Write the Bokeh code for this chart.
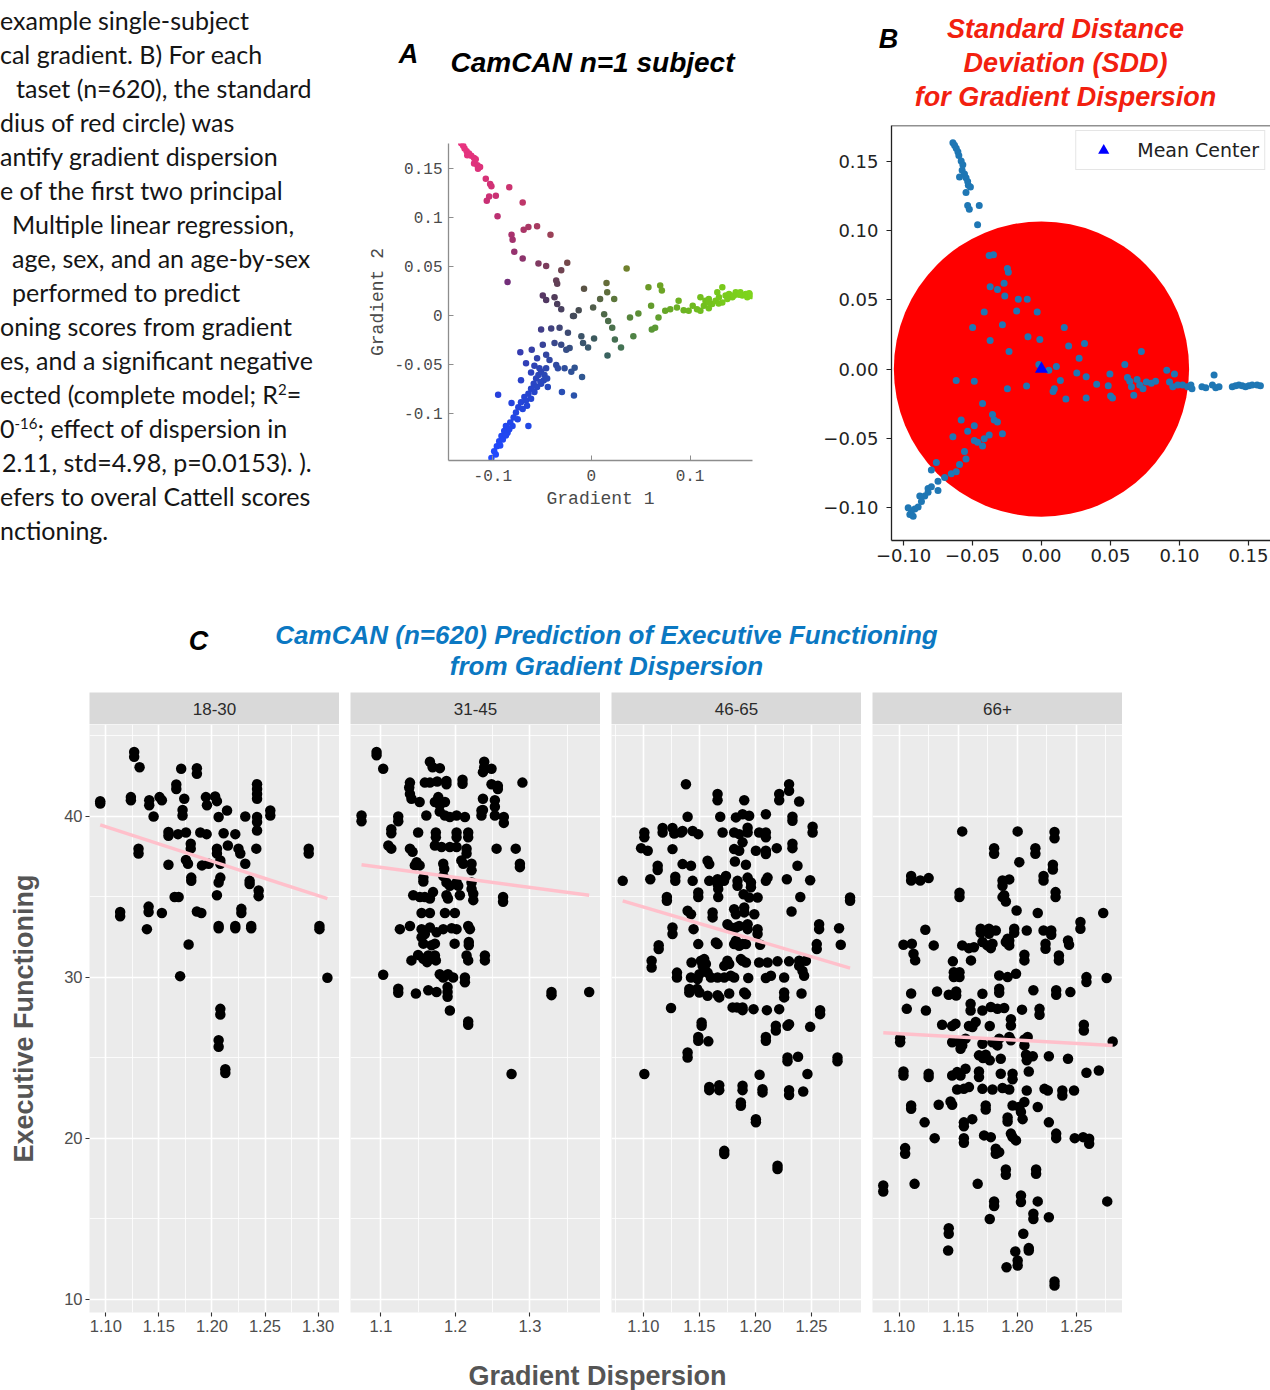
import numpy as np
from bokeh.plotting import figure
from bokeh.layouts import row, column
from bokeh.models import (Range1d, FixedTicker, CustomJSTickFormatter, Label, Legend,
                          LegendItem, Span, Div, Spacer)
from bokeh.embed import file_html
from bokeh.resources import INLINE

# ---------------------------------------------------------------- data
# Panel A: one subject's parcels in gradient space (Gradient 1, Gradient 2)
subject_parcels = [
    # transmodal arm (top)
    (-0.132, 0.1752), (-0.130, 0.1728), (-0.1286, 0.170), (-0.1265, 0.1672), (-0.1241, 0.1648),
    (-0.1218, 0.1624), (-0.119, 0.1603), (-0.1173, 0.159), (-0.1259, 0.163), (-0.119, 0.1545),
    (-0.1156, 0.1528), (-0.115, 0.1493), (-0.1129, 0.151), (-0.1071, 0.139), (-0.1027, 0.1338),
    (-0.1014, 0.1314), (-0.1037, 0.121), (-0.0969, 0.1217), (-0.1061, 0.1166), (-0.0952, 0.101),
    (-0.0833, 0.1303), (-0.0697, 0.1148), (-0.081, 0.0821), (-0.0799, 0.0769), (-0.0782, 0.0648),
    (-0.0697, 0.0579), (-0.0687, 0.0872), (-0.0639, 0.090), (-0.0551, 0.0907), (-0.0415, 0.0821),
    (-0.0537, 0.0528), (-0.0459, 0.0503), (-0.0306, 0.0459), (-0.0245, 0.0534), (-0.0357, 0.0355),
    (-0.0347, 0.0321), (-0.085, 0.0338), (-0.0493, 0.020), (-0.0459, 0.0155), (-0.0374, 0.0183),
    (-0.0347, 0.0114), (-0.0306, 0.0062),
    # centre
    (-0.0075, 0.0269), (0.0017, 0.0079), (0.0088, 0.0166), (0.0153, 0.0328), (0.016, 0.0234),
    (0.0231, 0.0166), (0.0357, 0.0476), (-0.0129, 0.0052), (-0.0187, -0.0007),
    # visual arm (right)
    (0.0129, 0.001), (0.017, -0.0059), (0.0211, -0.0128), (0.0238, -0.0248), (0.0163, -0.041),
    (0.030, -0.0328), (0.0027, -0.0238), (0.0391, -0.0024), (0.0425, -0.0214), (0.0476, 0.0017),
    (0.0578, 0.0286), (0.0605, 0.0097), (0.0697, 0.0303), (0.0714, 0.0252), (0.0612, -0.0145),
    (0.0646, -0.0128), (0.068, -0.0024), (0.0748, 0.0045), (0.0799, 0.0062), (0.0867, 0.0079),
    (0.0884, 0.0148), (0.0935, 0.0052), (0.0986, 0.0045), (0.1027, 0.0097), (0.1105, 0.0183),
    (0.1156, 0.0148), (0.119, 0.0166), (0.1224, 0.0114), (0.1259, 0.0148), (0.1293, 0.0183),
    (0.1327, 0.0131), (0.136, 0.020), (0.1395, 0.0217), (0.1429, 0.0183), (0.1463, 0.0234),
    (0.1497, 0.021), (0.153, 0.020), (0.1565, 0.0217), (0.1599, 0.0224), (0.162, 0.0196),
    (0.119, 0.0072), (0.114, 0.0097), (0.107, 0.0062), (0.1105, 0.0045), (0.1327, 0.0286),
    (0.1276, 0.0234), (0.1378, 0.0166), (0.1446, 0.020), (0.158, 0.0183), (0.1616, 0.021),
    (0.151, 0.0234), (0.119, 0.013), (0.129, 0.012),
    # somatomotor arm (bottom left)
    (-0.1014, -0.1455), (-0.0986, -0.1386), (-0.0959, -0.1334), (-0.0935, -0.1283), (-0.0912, -0.1231),
    (-0.0884, -0.1179), (-0.0867, -0.1128), (-0.085, -0.1197), (-0.0823, -0.1093), (-0.0789, -0.1041),
    (-0.0765, -0.099), (-0.0741, -0.0938), (-0.0714, -0.0886), (-0.068, -0.0834), (-0.0663, -0.0869),
    (-0.0639, -0.080), (-0.0612, -0.0748), (-0.0585, -0.0697), (-0.0561, -0.0645), (-0.0537, -0.061),
    (-0.051, -0.0576), (-0.0483, -0.0662), (-0.0459, -0.0541), (-0.0442, -0.0731), (-0.0946, -0.081),
    (-0.081, -0.0893), (-0.0639, -0.1128), (-0.0721, -0.0376), (-0.0605, -0.0352), (-0.0551, -0.0438),
    (-0.0578, -0.0514), (-0.0527, -0.0541), (-0.051, -0.0145), (-0.0493, -0.030), (-0.0459, -0.0403),
    (-0.0425, -0.0455), (-0.0408, -0.0134), (-0.0374, -0.0283), (-0.0357, -0.0507), (-0.034, -0.0541),
    (-0.0323, -0.0128), (-0.0306, -0.030), (-0.0299, -0.0783), (-0.0272, -0.0541), (-0.0255, -0.0352),
    (-0.0238, -0.0179), (-0.0221, -0.0334), (-0.0204, -0.0576), (-0.0177, -0.0817), (-0.017, -0.0534),
    (-0.0177, -0.0007), (-0.0102, -0.0214), (-0.0085, -0.0283), (-0.0034, -0.0328), (-0.0095, -0.0628),
    (-0.0663, -0.049), (-0.0612, -0.0583), (-0.0714, -0.0662), (-0.051, -0.0697), (-0.097, -0.142),
    (-0.0925, -0.1328), (-0.0898, -0.1266), (-0.0867, -0.1224), (-0.0833, -0.1162), (-0.080, -0.1128),
    (-0.0748, -0.1059), (-0.0697, -0.0955), (-0.0653, -0.0921), (-0.0612, -0.0852), (-0.0578, -0.0783),
    (-0.0551, -0.0731), (-0.0517, -0.0679), (-0.0476, -0.061), (-0.0449, -0.0645),
]

# Panel B: group gradient space with its mean centre and standard distance deviation
group_parcels = [
    (-0.0642, 0.1636), (-0.063, 0.1618), (-0.0618, 0.1596), (-0.0606, 0.157), (-0.0599, 0.1543),
    (-0.0582, 0.1503), (-0.057, 0.1476), (-0.0575, 0.1436), (-0.0558, 0.1409), (-0.0547, 0.1382),
    (-0.0535, 0.1356), (-0.053, 0.1329), (-0.0515, 0.1316), (-0.0594, 0.1388), (-0.0547, 0.1275),
    (-0.0535, 0.1182), (-0.0523, 0.1155), (-0.0451, 0.1182), (-0.0463, 0.1043),
    (-0.0379, 0.0821), (-0.0348, 0.0826), (-0.0247, 0.0727), (-0.024, 0.070), (-0.0372, 0.0594),
    (-0.0319, 0.0575), (-0.0271, 0.062), (-0.0266, 0.0527), (-0.0168, 0.0505), (-0.0103, 0.0505),
    (-0.0415, 0.0412), (-0.018, 0.042), (-0.0031, 0.0412), (-0.0499, 0.030), (-0.0283, 0.0321),
    (-0.0372, 0.0206), (-0.0235, 0.0126), (-0.0098, 0.0233), (-0.0012, 0.0214), (0.0165, 0.030),
    (0.0197, 0.0166), (0.0312, 0.0184), (0.0273, 0.0078), (-0.0019, 0.0032), (0.0053, -0.0008),
    (0.0108, 0.0019), (-0.0618, -0.0083), (-0.0487, -0.0088), (-0.0247, -0.0142), (-0.0108, -0.0123),
    (0.0137, -0.0083), (0.0093, -0.0142), (0.0084, -0.0163), (0.0256, -0.0029), (0.0324, -0.0056),
    (0.0177, -0.0217), (0.0324, -0.0209), (0.040, -0.011), (0.0496, -0.0035), (0.0484, -0.012),
    (0.0501, -0.0195), (0.0515, -0.0209), (0.0604, 0.0032), (0.0724, 0.0126),
    (0.0623, -0.0061), (0.064, -0.0088), (0.0652, -0.0128), (0.0669, -0.019), (0.0693, -0.0075),
    (0.0712, -0.0115), (0.0736, -0.0142), (0.076, -0.0094), (0.0796, -0.0102), (0.0827, -0.0088),
    (0.0908, -0.0008), (0.0928, -0.0094), (0.0964, -0.0035), (0.0952, -0.0128), (0.0988, -0.0115),
    (0.1023, -0.0115), (0.1059, -0.0128), (0.1083, -0.0115), (0.1091, -0.0142),
    (0.1163, -0.0128), (0.1191, -0.0136), (0.1239, -0.0115), (0.1251, -0.0043), (0.1263, -0.0136),
    (0.1287, -0.0128), (0.1383, -0.0128), (0.1407, -0.012), (0.1431, -0.0115), (0.1455, -0.012),
    (0.1479, -0.0128), (0.1503, -0.012), (0.1527, -0.0115), (0.1563, -0.0115), (0.1587, -0.012),
    (-0.0642, -0.0489), (-0.0487, -0.0409), (-0.0427, -0.0249), (-0.0355, -0.0329), (-0.0343, -0.0369),
    (-0.0319, -0.0382), (-0.0283, -0.0468), (-0.0487, -0.0516), (-0.0582, -0.0369), (-0.0535, -0.0449),
    (-0.0463, -0.0529), (-0.0427, -0.0556), (-0.0415, -0.0503), (-0.0379, -0.0476), (-0.0558, -0.0596),
    (-0.0547, -0.065), (-0.0594, -0.069), (-0.0618, -0.0743), (-0.0654, -0.0757), (-0.0702, -0.0783),
    (-0.0762, -0.0676), (-0.0798, -0.073), (-0.075, -0.081), (-0.0822, -0.0864), (-0.0846, -0.0917),
    (-0.087, -0.0957), (-0.0894, -0.0997), (-0.0918, -0.1011), (-0.0942, -0.1024), (-0.0954, -0.1051),
    (-0.093, -0.1064), (-0.0966, -0.1003), (-0.0882, -0.0917), (-0.075, -0.0877), (-0.0798, -0.085),
    (-0.0822, -0.089),
]
mean_center = (0.0, 0.0)
sdd_radius = 0.107

# Panel C: gradient dispersion vs executive functioning, by age group
age_groups = ["18-30", "31-45", "46-65", "66+"]

scores_18_30 = [
    (1.1267, 44.0), (1.1267, 43.7), (1.1318, 43.06), (1.171, 42.96), (1.1858, 43.0), (1.1858, 42.65),
    (1.1664, 41.99), (1.1664, 41.7), (1.0947, 40.95), (1.0947, 40.8), (1.1236, 41.2), (1.1236, 41.0),
    (1.1409, 41.0), (1.1409, 40.7), (1.145, 40.0), (1.1506, 41.2), (1.1528, 41.0), (1.1739, 41.1),
    (1.1723, 40.4), (1.1723, 40.06), (1.1943, 41.2), (1.1953, 40.7), (1.203, 41.24), (1.2047, 40.95),
    (1.2142, 40.37), (1.2063, 39.96), (1.2314, 40.0), (1.2425, 42.0), (1.2425, 41.7), (1.2425, 41.4),
    (1.2425, 41.1), (1.255, 40.37), (1.255, 40.06), (1.2425, 39.96), (1.2425, 39.65), (1.2425, 39.13),
    (1.159, 39.03), (1.159, 38.8), (1.168, 38.9), (1.1755, 39.0), (1.189, 39.0), (1.195, 38.9),
    (1.211, 38.96), (1.222, 38.9), (1.1308, 38.0), (1.1308, 37.7), (1.180, 38.3), (1.180, 38.0),
    (1.2047, 38.0), (1.2047, 37.7), (1.215, 38.2), (1.225, 38.0), (1.2267, 37.7), (1.2418, 38.0),
    (1.2912, 38.0), (1.2912, 37.7), (1.159, 37.0), (1.1755, 37.3), (1.1774, 37.06), (1.1906, 36.96),
    (1.1969, 37.06), (1.2079, 37.27), (1.2079, 37.06), (1.2314, 37.06), (1.1805, 36.2), (1.1805, 36.0),
    (1.2063, 35.9), (1.2079, 36.2), (1.2355, 36.0), (1.2355, 35.8), (1.2047, 35.1), (1.1648, 35.0),
    (1.1686, 35.0), (1.244, 35.4), (1.244, 35.05), (1.1135, 34.06), (1.1135, 33.8), (1.1403, 34.4),
    (1.1403, 34.06), (1.1528, 34.0), (1.1858, 34.1), (1.190, 34.0), (1.2277, 34.26), (1.2277, 34.0),
    (1.1387, 33.0), (1.2063, 33.2), (1.2063, 33.06), (1.222, 33.2), (1.222, 33.06), (1.237, 33.2),
    (1.237, 33.06), (1.3013, 33.2), (1.3013, 33.0), (1.178, 32.05), (1.170, 30.08), (1.3088, 29.98),
    (1.2079, 28.05), (1.2079, 27.7), (1.2063, 26.1), (1.2063, 25.7), (1.2126, 24.3), (1.2126, 24.06),
]

scores_31_45 = [
    (1.0942, 44.0), (1.0942, 43.8), (1.1031, 42.96), (1.1658, 43.4), (1.1694, 43.06), (1.1792, 43.0),
    (1.2387, 43.4), (1.2387, 43.06), (1.2485, 42.96), (1.237, 42.75), (1.290, 42.1), (1.139, 42.1),
    (1.138, 41.8), (1.139, 41.4), (1.141, 41.1), (1.152, 40.9), (1.159, 42.1), (1.1658, 42.1),
    (1.1756, 42.17), (1.188, 42.2), (1.188, 42.0), (1.2096, 42.28), (1.2096, 42.03), (1.2485, 42.0),
    (1.257, 41.9), (1.257, 41.7), (1.177, 41.2), (1.1725, 40.9), (1.186, 40.9), (1.179, 40.7),
    (1.237, 41.1), (1.237, 40.4), (1.253, 41.0), (1.253, 40.6), (1.253, 40.06), (1.161, 40.06),
    (1.179, 40.3), (1.186, 40.06), (1.1926, 39.96), (1.2016, 40.06), (1.2128, 39.96), (1.235, 40.37),
    (1.235, 40.06), (1.265, 39.96), (1.265, 39.6), (1.074, 40.06), (1.074, 39.7), (1.1233, 40.0),
    (1.1233, 39.7), (1.114, 39.2), (1.114, 38.96), (1.150, 39.0), (1.1738, 39.0), (1.1738, 38.7),
    (1.2016, 39.0), (1.2016, 38.7), (1.2172, 39.0), (1.2172, 38.7), (1.110, 38.2), (1.114, 38.0),
    (1.139, 38.0), (1.1425, 37.8), (1.1725, 38.2), (1.1814, 38.1), (1.1926, 38.1), (1.2016, 38.1),
    (1.215, 38.0), (1.215, 37.7), (1.2553, 38.0), (1.281, 38.0), (1.2866, 37.06), (1.2866, 36.85),
    (1.148, 37.16), (1.152, 36.96), (1.1456, 36.96), (1.1837, 37.06), (1.185, 36.75), (1.208, 37.27),
    (1.2105, 37.06), (1.2217, 37.06), (1.2217, 36.65), (1.157, 36.2), (1.157, 35.96), (1.1837, 36.3),
    (1.188, 35.9), (1.1926, 35.7), (1.2016, 35.9), (1.2038, 35.7), (1.2217, 35.9), (1.2217, 35.5),
    (1.224, 35.2), (1.224, 34.8), (1.1434, 35.1), (1.1523, 35.0), (1.159, 35.0), (1.1658, 34.9),
    (1.170, 35.3), (1.188, 35.1), (1.190, 34.9), (1.206, 35.1), (1.264, 35.0), (1.264, 34.7),
    (1.1546, 34.0), (1.1658, 34.0), (1.186, 34.0), (1.1993, 34.0), (1.1255, 33.0), (1.139, 33.2),
    (1.1546, 33.0), (1.159, 32.7), (1.1658, 33.1), (1.1747, 32.8), (1.1837, 33.0), (1.195, 33.06),
    (1.2016, 33.0), (1.2172, 33.2), (1.2195, 33.0), (1.1546, 32.5), (1.157, 32.1), (1.168, 32.0),
    (1.1725, 32.1), (1.199, 32.1), (1.218, 32.2), (1.218, 32.0), (1.141, 31.06), (1.150, 31.4),
    (1.157, 31.16), (1.162, 30.95), (1.1636, 31.37), (1.1725, 31.37), (1.1738, 31.06), (1.215, 31.37),
    (1.2172, 31.06), (1.2396, 31.37), (1.2396, 31.06), (1.1031, 30.17), (1.179, 30.2), (1.1837, 30.0),
    (1.190, 30.2), (1.197, 30.0), (1.2128, 30.0), (1.2128, 29.7), (1.1233, 29.3), (1.1233, 29.05),
    (1.147, 29.0), (1.1636, 29.2), (1.1747, 29.1), (1.1895, 29.4), (1.1895, 29.1), (1.1895, 28.8),
    (1.1926, 27.95), (1.2172, 27.27), (1.2172, 27.06), (1.329, 29.1), (1.329, 28.9), (1.3796, 29.1),
    (1.2754, 24.0),
]

scores_46_65 = [
    (1.138, 42.0), (1.1662, 41.39), (1.1662, 41.01), (1.190, 41.01), (1.2212, 41.39), (1.2212, 41.01),
    (1.230, 42.0), (1.230, 41.6), (1.239, 40.93), (1.1395, 39.98), (1.1686, 39.98), (1.1826, 39.94),
    (1.1885, 40.14), (1.1944, 40.04), (1.2093, 40.14), (1.233, 39.98), (1.233, 39.73), (1.251, 39.36),
    (1.251, 39.0), (1.1009, 39.0), (1.1009, 38.7), (1.098, 38.03), (1.1039, 37.87), (1.1172, 39.28),
    (1.1172, 39.0), (1.126, 39.28), (1.1276, 38.94), (1.1336, 39.0), (1.135, 39.1), (1.144, 39.1),
    (1.149, 38.9), (1.126, 37.97), (1.1707, 39.0), (1.181, 39.0), (1.1855, 38.9), (1.193, 39.0),
    (1.193, 39.3), (1.2033, 39.0), (1.2093, 39.0), (1.2093, 38.7), (1.181, 37.97), (1.1855, 37.87),
    (1.1885, 38.39), (1.2004, 37.87), (1.2093, 37.87), (1.2093, 37.66), (1.219, 38.03), (1.233, 38.3),
    (1.233, 38.03), (1.1128, 36.94), (1.1128, 36.67), (1.135, 37.04), (1.1425, 36.94), (1.1573, 37.25),
    (1.1588, 37.04), (1.1817, 37.2), (1.1915, 37.0), (1.2375, 36.94), (1.0816, 36.0), (1.1062, 36.1),
    (1.1285, 36.25), (1.1285, 36.0), (1.144, 36.0), (1.1588, 36.0), (1.1662, 36.1), (1.1662, 35.8),
    (1.1737, 36.3), (1.172, 36.0), (1.184, 36.0), (1.184, 35.7), (1.193, 36.2), (1.196, 35.9),
    (1.196, 35.6), (1.2093, 36.0), (1.2108, 36.2), (1.228, 36.1), (1.2488, 36.04), (1.121, 35.0),
    (1.121, 34.76), (1.149, 35.28), (1.149, 35.0), (1.1668, 35.8), (1.1668, 35.5), (1.1668, 35.0),
    (1.1894, 35.17), (1.1944, 34.97), (1.2019, 34.97), (1.24, 35.0), (1.2844, 34.97), (1.2844, 34.76),
    (1.1395, 34.14), (1.1425, 33.93), (1.1618, 34.04), (1.1618, 33.73), (1.181, 34.24), (1.1826, 33.93),
    (1.19, 34.35), (1.19, 34.04), (1.199, 33.93), (1.2322, 34.1), (1.126, 33.1), (1.126, 32.7),
    (1.1448, 33.0), (1.175, 33.3), (1.178, 33.1), (1.1826, 33.1), (1.1855, 33.2), (1.193, 33.3),
    (1.193, 33.0), (1.2019, 33.0), (1.2019, 32.7), (1.2568, 33.3), (1.2568, 33.0), (1.2746, 33.06),
    (1.1137, 32.0), (1.1137, 31.76), (1.149, 32.07), (1.1647, 32.17), (1.1662, 32.07), (1.181, 32.07),
    (1.1826, 32.28), (1.1855, 31.97), (1.1885, 32.07), (1.1915, 32.07), (1.2042, 32.03), (1.2547, 32.07),
    (1.2547, 31.76), (1.2761, 32.03), (1.1074, 31.04), (1.1074, 30.62), (1.143, 30.93), (1.1514, 31.04),
    (1.1543, 31.14), (1.1558, 30.83), (1.1529, 30.72), (1.175, 31.04), (1.1766, 30.83), (1.1722, 30.72),
    (1.187, 31.14), (1.1885, 31.04), (1.1915, 30.93), (1.2033, 30.93), (1.2108, 30.93), (1.2197, 31.0),
    (1.230, 31.0), (1.239, 31.04), (1.245, 31.04), (1.239, 30.72), (1.242, 30.4), (1.2434, 30.1),
    (1.130, 30.3), (1.130, 30.0), (1.1425, 30.0), (1.1484, 29.9), (1.15, 30.2), (1.1573, 30.3),
    (1.1603, 30.0), (1.1662, 30.0), (1.1722, 30.0), (1.178, 30.1), (1.181, 30.0), (1.1936, 29.96),
    (1.2093, 29.96), (1.2138, 30.1), (1.2256, 30.0), (1.141, 29.28), (1.141, 29.07), (1.148, 29.28),
    (1.15, 29.07), (1.1573, 28.86), (1.1662, 28.9), (1.1677, 28.76), (1.1766, 29.0), (1.19, 29.07),
    (1.1915, 28.96), (1.2256, 29.07), (1.2256, 28.76), (1.2411, 29.0), (1.1247, 28.1), (1.1796, 28.14),
    (1.1835, 28.14), (1.1885, 28.14), (1.1885, 27.97), (1.1983, 28.03), (1.2102, 27.97), (1.2212, 28.03),
    (1.2577, 27.97), (1.2577, 27.72), (1.152, 27.2), (1.152, 27.0), (1.149, 26.3), (1.149, 26.07),
    (1.158, 26.03), (1.1395, 25.34), (1.1395, 25.03), (1.2182, 27.0), (1.2182, 26.7), (1.2286, 27.0),
    (1.230, 27.1), (1.2093, 26.3), (1.2093, 26.07), (1.2488, 26.93), (1.2286, 25.03), (1.2286, 24.8),
    (1.238, 25.07), (1.2732, 25.03), (1.2732, 24.8), (1.1009, 24.0), (1.2037, 23.96), (1.2464, 24.0),
    (1.1588, 23.2), (1.1588, 23.0), (1.1677, 23.3), (1.1677, 23.0), (1.1885, 23.27), (1.1885, 23.0),
    (1.2063, 23.06), (1.2063, 22.86), (1.230, 23.0), (1.230, 22.7), (1.2426, 22.92), (1.187, 22.24),
    (1.187, 22.03), (1.2004, 21.2), (1.2004, 21.0), (1.1722, 19.23), (1.1722, 19.03), (1.2197, 18.3),
    (1.2197, 18.1),
]

scores_66_plus = [
    (1.1534, 39.07), (1.2003, 39.07), (1.2315, 39.03), (1.2315, 38.65), (1.1804, 38.03), (1.1804, 37.68),
    (1.2153, 38.03), (1.2153, 37.68), (1.2017, 37.16), (1.2301, 37.0), (1.2301, 36.7), (1.1102, 36.3),
    (1.1102, 36.02), (1.1179, 36.02), (1.125, 36.17), (1.1511, 35.26), (1.1511, 34.99), (1.1875, 36.02),
    (1.1875, 35.7), (1.1932, 36.09), (1.1875, 34.99), (1.1903, 34.72), (1.1889, 35.1), (1.2222, 36.3),
    (1.2222, 36.02), (1.2324, 35.3), (1.2324, 34.99), (1.1994, 34.16), (1.2173, 34.0), (1.2727, 34.0),
    (1.2534, 33.44), (1.2534, 33.02), (1.1222, 32.96), (1.169, 33.02), (1.169, 32.77), (1.176, 33.02),
    (1.176, 32.71), (1.1818, 32.92), (1.1974, 33.02), (1.1974, 32.77), (1.1932, 32.3), (1.208, 32.92),
    (1.2222, 32.92), (1.2287, 32.92), (1.2287, 32.65), (1.1037, 32.03), (1.1108, 32.09), (1.1122, 31.47),
    (1.1136, 31.06), (1.1293, 31.99), (1.1534, 31.99), (1.159, 31.82), (1.1633, 31.88), (1.1705, 32.2),
    (1.1747, 31.99), (1.179, 32.1), (1.1776, 31.82), (1.1903, 32.2), (1.1932, 31.99), (1.1918, 32.4),
    (1.206, 31.41), (1.206, 31.06), (1.2239, 32.09), (1.2239, 31.78), (1.2352, 31.37), (1.2352, 31.06),
    (1.2429, 32.3), (1.2438, 32.03), (1.1608, 31.06), (1.1455, 31.0), (1.1463, 30.33), (1.1463, 30.02),
    (1.1511, 30.33), (1.1511, 30.02), (1.1847, 30.12), (1.1918, 30.02), (1.1989, 30.23), (1.2585, 30.02),
    (1.2585, 29.71), (1.2756, 29.96), (1.1102, 29.0), (1.1321, 29.13), (1.142, 28.92), (1.1483, 28.88),
    (1.1483, 29.13), (1.1705, 28.99), (1.1847, 29.3), (1.1847, 29.05), (1.2136, 29.2), (1.2329, 29.2),
    (1.2329, 28.92), (1.2449, 29.09), (1.1065, 28.05), (1.1227, 27.95), (1.1605, 28.36), (1.1605, 27.95),
    (1.1705, 27.95), (1.1776, 28.16), (1.1832, 28.05), (1.1889, 28.1), (1.204, 28.0), (1.2188, 28.05),
    (1.2188, 27.68), (1.1364, 27.06), (1.1449, 26.98), (1.1477, 27.12), (1.1591, 26.98), (1.1648, 27.23),
    (1.162, 26.92), (1.1767, 26.98), (1.1946, 27.4), (1.1946, 27.02), (1.2563, 27.06), (1.2563, 26.71),
    (1.1009, 26.23), (1.1009, 25.98), (1.1449, 25.98), (1.1506, 25.98), (1.1534, 25.78), (1.1562, 26.2),
    (1.152, 25.57), (1.1705, 25.88), (1.179, 25.98), (1.1832, 25.78), (1.1847, 26.2), (1.1932, 26.3),
    (1.1946, 26.1), (1.206, 26.15), (1.206, 25.78), (1.2088, 26.3), (1.2807, 26.02), (1.1676, 25.16),
    (1.171, 25.0), (1.1767, 24.85), (1.1733, 25.2), (1.186, 24.95), (1.2074, 25.2), (1.2131, 25.1),
    (1.208, 24.85), (1.2267, 25.1), (1.2429, 24.95), (1.1037, 24.16), (1.1037, 23.91), (1.125, 24.02),
    (1.125, 23.81), (1.1449, 23.91), (1.1491, 24.12), (1.152, 23.91), (1.1562, 24.33), (1.1676, 24.16),
    (1.1676, 23.81), (1.186, 24.02), (1.196, 24.02), (1.196, 23.67), (1.2097, 24.16), (1.2585, 24.08),
    (1.269, 24.22), (1.1491, 23.04), (1.1548, 23.08), (1.1591, 23.19), (1.1705, 23.08), (1.179, 23.04),
    (1.1875, 23.13), (1.1932, 23.04), (1.208, 22.98), (1.223, 23.08), (1.2258, 22.98), (1.2381, 22.98),
    (1.2381, 22.67), (1.248, 22.98), (1.1102, 22.05), (1.1102, 21.84), (1.1335, 22.09), (1.1435, 22.3),
    (1.1449, 22.09), (1.1733, 22.05), (1.1733, 21.8), (1.196, 22.05), (1.2017, 21.95), (1.206, 22.26),
    (1.2031, 21.64), (1.2045, 21.2), (1.2173, 21.95), (1.1216, 21.0), (1.1548, 21.0), (1.1548, 20.76),
    (1.1619, 21.2), (1.1918, 21.3), (1.1918, 21.05), (1.2267, 21.0), (1.1301, 20.02), (1.1548, 20.02),
    (1.1548, 19.73), (1.1719, 20.19), (1.1776, 20.08), (1.1946, 20.3), (1.196, 20.08), (1.1989, 19.88),
    (1.2329, 20.3), (1.2329, 20.02), (1.2486, 20.02), (1.2557, 20.08), (1.2608, 19.98), (1.2608, 19.67),
    (1.1051, 19.4), (1.1051, 19.05), (1.1818, 19.36), (1.1847, 19.15), (1.1818, 19.05), (1.1903, 18.07),
    (1.1903, 17.74), (1.2159, 18.07), (1.2159, 17.8), (1.0866, 17.08), (1.0866, 16.7), (1.1131, 17.18),
    (1.1665, 17.18), (1.1804, 16.09), (1.1804, 15.8), (1.2031, 16.46), (1.2031, 16.05), (1.2173, 16.09),
    (1.2136, 15.32), (1.2136, 15.0), (1.2267, 15.11), (1.1767, 15.0), (1.2761, 16.09), (1.142, 14.43),
    (1.142, 14.08), (1.1415, 13.04), (1.2051, 14.08), (1.2097, 13.19), (1.2097, 13.04), (1.1983, 12.98),
    (1.2003, 12.42), (1.2003, 12.11), (1.1909, 12.0), (1.2315, 11.12), (1.2315, 10.87),
]

# linear fit per age group: (x_start, x_end), (y_start, y_end)
fit_x = [(1.0947, 1.3088), (1.074, 1.3796), (1.0816, 1.2844), (1.0866, 1.2807)]
fit_y = [(39.48, 34.89), (37.0, 35.1), (34.76, 30.58), (26.56, 25.78)]

facet_x_ranges = [(1.0846, 1.3202), (1.0592, 1.3948), (1.0716, 1.2946), (1.0775, 1.289)]
facet_x_major = [[1.10, 1.15, 1.20, 1.25, 1.30], [1.1, 1.2, 1.3],
                 [1.10, 1.15, 1.20, 1.25], [1.10, 1.15, 1.20, 1.25]]
facet_x_minor = [[1.125, 1.175, 1.225, 1.275], [1.15, 1.25, 1.35],
                 [1.075, 1.125, 1.175, 1.225, 1.275], [1.125, 1.175, 1.225, 1.275]]
facet_x_decimals = [2, 1, 2, 2]
score_ticks = [10, 20, 30, 40]
score_minor = [15, 25, 35, 45]

caption_lines = [
    (0, "example single-subject"),
    (0, "cal gradient. B) For each"),
    (16, "taset (n=620), the standard"),
    (0, "dius of red circle) was"),
    (0, "antify gradient dispersion"),
    (0, "e of the first two principal"),
    (12, "Multiple linear regression,"),
    (12, "age, sex, and an age-by-sex"),
    (12, "performed to predict"),
    (0, "oning scores from gradient"),
    (0, "es, and a significant negative"),
    (0, "ected (complete model; R<sup>2</sup>="),
    (0, "0<sup>-16</sup>; effect of dispersion in"),
    (2, "2.11, std=4.98, p=0.0153). )."),
    (0, "efers to overal Cattell scores"),
    (0, "nctioning."),
]

SANS = "Liberation Sans"


# ---------------------------------------------------------------- helpers
def text_panel(w, h, labels):
    """Blank canvas whose ranges are its own pixel grid, carrying text only."""
    p = figure(width=w, height=h, x_range=Range1d(0, w), y_range=Range1d(h, 0),
               x_axis_location=None, y_axis_location=None, min_border=0,
               frame_align=False, output_backend="svg", toolbar_location=None)
    p.grid.visible = False
    p.outline_line_color = None
    for lab in labels:
        p.add_layout(Label(text_baseline="middle", **lab))
    return p


def arm_colors(g1, g2):
    """Colour each parcel by its position between the three gradient arms."""
    tips = np.array([[-0.13, 0.172], [0.16, 0.021], [-0.102, -0.145]])
    tip_rgb = np.array([[232, 52, 128], [126, 212, 28], [34, 74, 255]], float)
    T = np.vstack([tips.T, np.ones(3)])
    P = np.vstack([g1, g2, np.ones(len(g1))])
    w = np.clip(np.linalg.solve(T, P).T, 0, None)
    w /= w.sum(1, keepdims=True)
    wmax = w.max(1)
    s = w ** 2
    s /= s.sum(1, keepdims=True)
    shade = 0.55 + 0.45 * np.clip((wmax - 1 / 3) / (2 / 3), 0, 1) ** 0.7
    rgb = np.clip((s @ tip_rgb) * shade[:, None], 0, 255)
    return ["#%02x%02x%02x" % tuple(int(round(c)) for c in v) for v in rgb]


# ---------------------------------------------------------------- caption text
caption_html = (
    '<div style="font-family:Lato;font-size:25px;color:#151515;padding-top:3px;'
    'width:330px;overflow:hidden;">'
    + "".join(
        f'<div style="margin-left:{dx}px;height:34px;line-height:34px;white-space:nowrap;">{t}</div>'
        for dx, t in caption_lines)
    + "</div>")
caption_html = caption_html.replace("<sup>", '<sup style="font-size:15px;line-height:0;">')
caption = Div(text=caption_html, width=330, height=580, margin=0)

# ---------------------------------------------------------------- panel A
title_a = text_panel(420, 110, [
    dict(x=43, y=53, text="A", text_font=SANS, text_font_style="bold italic",
         text_font_size="27px", text_color="black", text_align="center"),
    dict(x=227, y=62, text="CamCAN n=1 subject", text_font=SANS, text_font_style="bold italic",
         text_font_size="28px", text_color="black", text_align="center"),
])

g1, g2 = (np.array(v) for v in zip(*subject_parcels))
plot_a = figure(width=420, height=470, x_range=Range1d(-0.1449, 0.1633),
                y_range=Range1d(-0.148, 0.175), min_border_left=81, min_border_right=33,
                min_border_top=33, min_border_bottom=120, frame_align=False,
                output_backend="svg", toolbar_location=None)
plot_a.grid.visible = False
plot_a.outline_line_color = None
plot_a.scatter(g1, g2, size=6.5, color=arm_colors(g1, g2), line_width=0)
plot_a.xaxis.ticker = FixedTicker(ticks=[-0.1, 0, 0.1])
plot_a.yaxis.ticker = FixedTicker(ticks=[-0.1, -0.05, 0, 0.05, 0.1, 0.15])
plot_a.xaxis.axis_label = "Gradient 1"
plot_a.yaxis.axis_label = "Gradient 2"
for ax in (plot_a.xaxis, plot_a.yaxis):
    ax.formatter = CustomJSTickFormatter(code="return tick.toString();")
    ax.axis_line_color = "#8d8d8d"
    ax.axis_line_width = 1.3
    ax.major_tick_line_color = "#8d8d8d"
    ax.major_tick_in = 5
    ax.major_tick_out = 0
    ax.minor_tick_line_color = None
    ax.major_label_text_font = "Liberation Mono"
    ax.major_label_text_font_size = "16px"
    ax.major_label_text_color = "#4a4a4a"
    ax.axis_label_text_font = "Liberation Mono"
    ax.axis_label_text_font_size = "18px"
    ax.axis_label_text_font_style = "normal"
    ax.axis_label_text_color = "#4a4a4a"
plot_a.xaxis.major_label_standoff = 9
plot_a.xaxis.axis_label_standoff = 5
plot_a.yaxis.major_label_standoff = 6
plot_a.yaxis.axis_label_standoff = 3

# ---------------------------------------------------------------- panel B
red = "#f2200f"
title_b = text_panel(485, 118, [
    dict(x=103, y=38, text="B", text_font=SANS, text_font_style="bold italic",
         text_font_size="27px", text_color="black", text_align="center"),
    dict(x=280, y=28, text="Standard Distance", text_font=SANS, text_font_style="bold italic",
         text_font_size="27px", text_color=red, text_align="center"),
    dict(x=280, y=62, text="Deviation (SDD)", text_font=SANS, text_font_style="bold italic",
         text_font_size="27px", text_color=red, text_align="center"),
    dict(x=280, y=96, text="for Gradient Dispersion", text_font=SANS, text_font_style="bold italic",
         text_font_size="27px", text_color=red, text_align="center"),
])

b_top = 0.176
plot_b = figure(width=485, height=462, x_range=Range1d(-0.1087, 0.166),
                y_range=Range1d(-0.1239, b_top), min_border_left=106, min_border_right=0,
                min_border_top=7, min_border_bottom=40, frame_align=False,
                output_backend="svg", toolbar_location=None)
plot_b.grid.visible = False
plot_b.outline_line_color = None
plot_b.circle(x=[mean_center[0]], y=[mean_center[1]], radius=sdd_radius,
              fill_color="#ff0000", line_color=None)
bx, by = zip(*group_parcels)
plot_b.scatter(bx, by, size=7, color="#1f77b4", line_width=0)
tri = plot_b.scatter([mean_center[0]], [mean_center[1]], marker="triangle", size=13,
                     color="#0000ff", line_width=0)
plot_b.add_layout(Span(location=b_top, dimension="width", line_color="#222222", line_width=1.3))
ticks_b = [-0.10, -0.05, 0.0, 0.05, 0.10, 0.15]
plot_b.xaxis.ticker = FixedTicker(ticks=ticks_b)
plot_b.yaxis.ticker = FixedTicker(ticks=ticks_b)
for ax in (plot_b.xaxis, plot_b.yaxis):
    ax.formatter = CustomJSTickFormatter(
        code="return (tick < -1e-9 ? '\u2212' : '') + Math.abs(tick).toFixed(2);")
    ax.axis_line_color = "#222222"
    ax.axis_line_width = 1.3
    ax.major_tick_line_color = "#222222"
    ax.major_tick_line_width = 1.2
    ax.major_tick_in = 0
    ax.major_tick_out = 5
    ax.minor_tick_line_color = None
    ax.major_label_text_font = "DejaVu Sans"
    ax.major_label_text_font_size = "18px"
    ax.major_label_text_color = "#222222"
plot_b.xaxis.major_label_standoff = 3
plot_b.yaxis.major_label_standoff = 8
legend_b = Legend(items=[LegendItem(label="Mean Center", renderers=[tri])],
                  location="top_right", margin=5, padding=5, glyph_width=44, glyph_height=28,
                  label_standoff=12, label_text_font="DejaVu Sans",
                  label_text_font_size="19px", label_text_color="#222222",
                  border_line_color="#cccccc", border_line_width=1.2,
                  background_fill_color="white", background_fill_alpha=0.9)
plot_b.add_layout(legend_b)

# ---------------------------------------------------------------- panel C
title_c = text_panel(1270, 112, [
    dict(x=198, y=60, text="C", text_font=SANS, text_font_style="bold italic",
         text_font_size="27px", text_color="black", text_align="center"),
    dict(x=606, y=54, text="CamCAN (n=620) Prediction of Executive Functioning",
         text_font=SANS, text_font_style="bold italic", text_font_size="26px",
         text_color="#0b78c2", text_align="center"),
    dict(x=606, y=85, text="from Gradient Dispersion",
         text_font=SANS, text_font_style="bold italic", text_font_size="26px",
         text_color="#0b78c2", text_align="center"),
])

score_range = Range1d(9.19, 45.71)
facet_series = [scores_18_30, scores_31_45, scores_46_65, scores_66_plus]
facet_cols = []
for i, (group, pts) in enumerate(zip(age_groups, facet_series)):
    left = 89 if i == 0 else 0
    strip = figure(width=250, height=32, x_range=Range1d(0, 1), y_range=Range1d(0, 1),
                   x_axis_location=None, y_axis_location=None, min_border=0,
                   frame_align=False, output_backend="svg", toolbar_location=None)
    strip.grid.visible = False
    strip.outline_line_color = None
    strip.background_fill_color = "#d9d9d9"
    strip.border_fill_color = "#d9d9d9"
    strip.add_layout(Label(x=0.5, y=0.5, text=group, text_align="center", text_baseline="middle",
                           text_font=SANS, text_font_size="17px", text_color="#2b2b2b"))

    p = figure(width=250 + left, height=621, x_range=Range1d(*facet_x_ranges[i]),
               y_range=score_range, min_border_left=left, min_border_right=0,
               min_border_top=0, min_border_bottom=33, frame_align=False,
               y_axis_location="left" if i == 0 else None,
               output_backend="svg", toolbar_location=None)
    p.background_fill_color = "#ebebeb"
    p.outline_line_color = None
    p.xaxis.ticker = FixedTicker(ticks=facet_x_major[i], minor_ticks=facet_x_minor[i])
    p.xaxis.formatter = CustomJSTickFormatter(code=f"return tick.toFixed({facet_x_decimals[i]});")
    y_ticker = FixedTicker(ticks=score_ticks, minor_ticks=score_minor)
    p.ygrid.ticker = y_ticker
    axes = [p.xaxis]
    if i == 0:
        p.yaxis.ticker = y_ticker
        p.yaxis.axis_label = "Executive Functioning"
        p.yaxis.axis_label_text_font = SANS
        p.yaxis.axis_label_text_font_style = "bold"
        p.yaxis.axis_label_text_font_size = "27px"
        p.yaxis.axis_label_text_color = "#555555"
        p.yaxis.axis_label_standoff = 22
        axes.append(p.yaxis)
    for ax in axes:
        ax.axis_line_color = None
        ax.major_tick_line_color = "#333333"
        ax.major_tick_line_width = 1.1
        ax.major_tick_in = 0
        ax.major_tick_out = 4
        ax.minor_tick_line_color = None
        ax.major_label_standoff = 3
        ax.major_label_text_font = SANS
        ax.major_label_text_font_size = "16.5px"
        ax.major_label_text_color = "#4d4d4d"
    p.grid.grid_line_color = "white"
    p.grid.grid_line_width = 1.6
    p.grid.minor_grid_line_color = "white"
    p.grid.minor_grid_line_width = 0.8

    sx, sy = zip(*pts)
    p.scatter(sx, sy, size=10.5, color="black", line_width=0)
    p.line(list(fit_x[i]), list(fit_y[i]), line_color="#ffc0cb", line_width=3.5)

    top = row(Spacer(width=left, height=32), strip) if left else strip
    facet_cols.append(column(top, p))

facet_row = row(facet_cols[0], Spacer(width=11), facet_cols[1], Spacer(width=11),
                facet_cols[2], Spacer(width=11), facet_cols[3])

xlabel_c = text_panel(1270, 45, [
    dict(x=597, y=30, text="Gradient Dispersion", text_font=SANS, text_font_style="bold",
         text_font_size="27px", text_color="#555555", text_align="center"),
])

# ---------------------------------------------------------------- page
top_row = row(caption, Spacer(width=35, height=580), column(title_a, plot_a),
              column(title_b, plot_b))
page = column(top_row, title_c, facet_row, xlabel_c)

open("out.html", "w").write(file_html(page, INLINE))
